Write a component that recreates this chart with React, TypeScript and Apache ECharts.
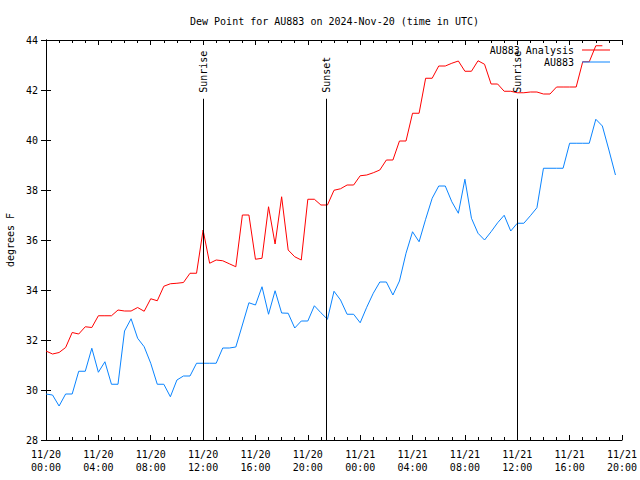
import React, { useEffect, useRef } from 'react';
import * as echarts from 'echarts';

// Half-hourly samples starting 2024-11-20 00:00 UTC
const stepHours = 0.5;

const analysis = [
  31.56, 31.44, 31.5, 31.7, 32.3, 32.24, 32.53, 32.5, 32.97, 32.97,
  32.97, 33.2, 33.16, 33.16, 33.3, 33.15, 33.65, 33.57, 34.15, 34.25,
  34.27, 34.3, 34.67, 34.67, 36.4, 35.07, 35.2, 35.17, 35.05, 34.93,
  37.0, 37.0, 35.23, 35.27, 37.33, 35.84, 37.73, 35.6, 35.33, 35.2,
  37.63, 37.63, 37.4, 37.4, 37.99, 38.05, 38.2, 38.2, 38.57, 38.6,
  38.69, 38.8, 39.2, 39.2, 39.96, 39.96, 41.07, 41.07, 42.47, 42.47,
  42.96, 42.96, 43.07, 43.16, 42.75, 42.75, 43.17, 43.03, 42.24, 42.24,
  41.95, 41.95, 41.89, 41.89, 41.92, 41.92, 41.84, 41.84, 42.12, 42.12,
  42.12, 42.12, 43.13, 43.13, 43.77, 43.77,
];

const observed = [
  29.84, 29.8, 29.36, 29.84, 29.84, 30.75, 30.75, 31.67, 30.71, 31.13,
  30.23, 30.23, 32.36, 32.85, 32.07, 31.73, 31.07, 30.23, 30.23, 29.73,
  30.4, 30.56, 30.56, 31.07, 31.07, 31.07, 31.07, 31.68, 31.68, 31.72,
  32.6, 33.49, 33.4, 34.13, 33.03, 33.97, 33.08, 33.07, 32.48, 32.76,
  32.76, 33.37, 33.09, 32.83, 33.95, 33.6, 33.03, 33.03, 32.69, 33.31,
  33.87, 34.32, 34.32, 33.8, 34.36, 35.47, 36.33, 35.93, 36.83, 37.67,
  38.16, 38.16, 37.53, 37.07, 38.43, 36.87, 36.27, 36.0, 36.33, 36.69,
  36.99, 36.36, 36.67, 36.67, 36.97, 37.29, 38.87, 38.87, 38.87, 38.87,
  39.87, 39.87, 39.87, 39.87, 40.83, 40.56, 39.6, 38.6,
];

const tickLabels = [
  '11/20\n00:00', '11/20\n04:00', '11/20\n08:00', '11/20\n12:00',
  '11/20\n16:00', '11/20\n20:00', '11/21\n00:00', '11/21\n04:00',
  '11/21\n08:00', '11/21\n12:00', '11/21\n16:00', '11/21\n20:00',
];

const eventNames = ['Sunrise', 'Sunset', 'Sunrise'];
const eventHours = [12.0, 21.42, 35.98];
const eventLineTop = 41.65;

const FONT = 'DejaVu Sans Mono';

export default function App() {
  const ref = useRef<HTMLDivElement>(null);

  useEffect(() => {
    if (!ref.current) return;
    const chart = echarts.init(ref.current, null, { renderer: 'svg' });

    const toPairs = (arr: number[]) => arr.map((v, i) => [i * stepHours, v]);

    const markData: any[] = [];
    eventHours.forEach((h, i) => {
      markData.push([
        { coord: [h, 28], lineStyle: { color: '#000', width: 1, type: 'solid' }, label: { show: false } },
        { coord: [h, eventLineTop] },
      ]);
      markData.push([
        {
          coord: [h, eventLineTop],
          lineStyle: { color: 'rgba(0,0,0,0)', width: 0 },
          label: {
            show: true,
            position: 'insideStart',
            formatter: eventNames[i],
            distance: 6,
            color: '#000',
            fontFamily: FONT,
            fontSize: 10,
          },
        },
        { coord: [h, 44] },
      ]);
    });

    const commonX = {
      type: 'value',
      min: 0,
      max: 44,
      interval: 4,
      axisLine: { show: true, lineStyle: { color: '#000', width: 1 } },
      axisTick: { show: true, inside: true, length: 5, lineStyle: { color: '#000' } },
      minorTick: { show: true, splitNumber: 4, length: 3, lineStyle: { color: '#000' } },
      splitLine: { show: false },
      minorSplitLine: { show: false },
    };
    const commonY = {
      type: 'value',
      min: 28,
      max: 44,
      interval: 2,
      axisLine: { show: true, lineStyle: { color: '#000', width: 1 } },
      axisTick: { show: true, inside: true, length: 5, lineStyle: { color: '#000' } },
      splitLine: { show: false },
    };

    const legendCommon = {
      orient: 'horizontal',
      align: 'right',
      right: 30,
      itemWidth: 28,
      itemHeight: 1,
      icon: 'rect',
      itemGap: 0,
      padding: 0,
      textStyle: { color: '#000', fontFamily: FONT, fontSize: 10, padding: [0, 3, 0, 0] },
      selectedMode: false,
    };

    chart.setOption({
      animation: false,
      backgroundColor: '#fff',
      textStyle: { fontFamily: FONT },
      title: {
        text: 'Dew Point for AU883 on 2024-Nov-20 (time in UTC)',
        left: 185,
        top: 11,
        textStyle: { fontFamily: FONT, fontSize: 10, fontWeight: 'normal', color: '#000' },
      },
      legend: [
        { ...legendCommon, data: ['AU883 Analysis'], top: 45 },
        { ...legendCommon, data: ['AU883'], top: 57 },
      ],
      grid: { left: 46, right: 18, top: 40, bottom: 40, containLabel: false, outerBoundsMode: 'none' },
      xAxis: [
        {
          ...commonX,
          position: 'bottom',
          axisLabel: {
            show: true,
            color: '#000',
            fontFamily: FONT,
            fontSize: 10,
            lineHeight: 13,
            margin: 8,
            formatter: (v: number) => tickLabels[Math.round(v / 4)] ?? '',
          },
        },
        { ...commonX, position: 'top', axisLabel: { show: false } },
      ],
      yAxis: [
        {
          ...commonY,
          position: 'left',
          name: 'degrees F',
          nameLocation: 'middle',
          nameGap: 31,
          nameRotate: 90,
          nameTextStyle: { color: '#000', fontFamily: FONT, fontSize: 10 },
          axisLabel: { show: true, color: '#000', fontFamily: FONT, fontSize: 10, margin: 8 },
        },
        { ...commonY, position: 'right', axisLabel: { show: false } },
      ],
      series: [
        {
          name: 'AU883 Analysis',
          type: 'line',
          data: toPairs(analysis),
          showSymbol: false,
          symbol: 'none',
          color: '#ff0000',
          lineStyle: { color: '#ff0000', width: 1 },
          z: 3,
          markLine: {
            silent: true,
            symbol: ['none', 'none'],
            animation: false,
            data: markData,
          },
        },
        {
          name: 'AU883',
          type: 'line',
          data: toPairs(observed),
          showSymbol: false,
          symbol: 'none',
          color: '#0a84ff',
          lineStyle: { color: '#0a84ff', width: 1 },
          z: 3,
        },
      ],
    });

    return () => chart.dispose();
  }, []);

  return <div ref={ref} style={{ width: 640, height: 480, position: 'absolute', left: 0, top: 0 }} />;
}
